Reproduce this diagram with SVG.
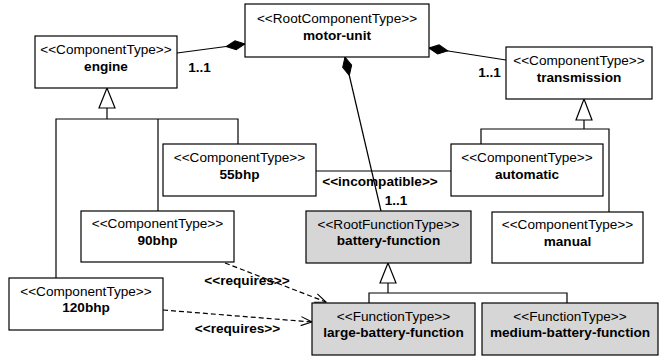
<svg xmlns="http://www.w3.org/2000/svg" width="660" height="356" viewBox="0 0 660 356">
  <style>
    .box { fill: #ffffff; stroke: #000000; stroke-width: 1.2; }
    .fn { fill: #d6d6d6; stroke: #000000; stroke-width: 1.2; }
    .st { font-family: "Liberation Sans", Arial, sans-serif; font-size: 13.6px; fill: #000; text-anchor: middle; }
    .nm { font-family: "Liberation Sans", Arial, sans-serif; font-size: 13.6px; font-weight: bold; fill: #000; text-anchor: middle; }
    .lbl { font-family: "Liberation Sans", Arial, sans-serif; font-size: 13.6px; font-weight: bold; fill: #000; text-anchor: middle; }
    .ln { fill: none; stroke: #000; stroke-width: 1.2; }
    .dash { fill: none; stroke: #000; stroke-width: 1.2; stroke-dasharray: 5 3; }
    .tri { fill: #ffffff; stroke: #000; stroke-width: 1.2; }
  </style>
  <defs>
    <marker id="diamond" markerUnits="userSpaceOnUse" markerWidth="22" markerHeight="12" viewBox="-20 -6 22 12" refX="0" refY="0" orient="auto">
      <path d="M0,0 L-9.5,-4.6 L-19,0 L-9.5,4.6 Z" fill="#000" stroke="#000" stroke-width="1"/>
    </marker>
    <marker id="open" markerUnits="userSpaceOnUse" markerWidth="14" markerHeight="12" viewBox="-12 -6 14 12" refX="0" refY="0" orient="auto">
      <path d="M-11,-4.5 L0,0 L-11,4.5" fill="none" stroke="#000" stroke-width="1.1"/>
    </marker>
  </defs>

  <!-- connectors -->
  <g id="connectors">
    <!-- compositions into motor-unit -->
    <line class="ln" x1="177" y1="53" x2="245" y2="44" marker-end="url(#diamond)"/>
    <line class="ln" x1="506" y1="60" x2="429" y2="48" marker-end="url(#diamond)"/>
    <line class="ln" x1="381" y1="211" x2="345" y2="57" marker-end="url(#diamond)"/>

    <!-- engine specialisations -->
    <polygon class="tri" points="107,88 99,108 115,108"/>
    <polyline class="ln" points="107,108 107,119"/>
    <polyline class="ln" points="56,278 56,119 238,119 238,144"/>
    <line class="ln" x1="158" y1="119" x2="158" y2="211"/>

    <!-- transmission specialisations -->
    <polygon class="tri" points="584,99 576,120 592,120"/>
    <polyline class="ln" points="584,120 584,129"/>
    <polyline class="ln" points="481,144 481,129 609,129 609,212"/>

    <!-- battery-function specialisations -->
    <polygon class="tri" points="388,263 380,283 396,283"/>
    <polyline class="ln" points="388,283 388,293"/>
    <polyline class="ln" points="369,303 369,293 567,293 567,303"/>

    <!-- incompatible -->
    <line class="ln" x1="316" y1="171" x2="451" y2="171"/>

    <!-- requires -->
    <line class="dash" x1="225" y1="263" x2="326" y2="302" marker-end="url(#open)"/>
    <line class="dash" x1="163" y1="310" x2="312" y2="322" marker-end="url(#open)"/>

    <!-- connector labels -->
    <text class="lbl" x="199.5" y="72">1..1</text>
    <text class="lbl" x="489.5" y="77">1..1</text>
    <text class="lbl" x="396" y="205">1..1</text>
    <text class="lbl" x="380" y="186">&lt;&lt;incompatible&gt;&gt;</text>
    <text class="lbl" x="247" y="285">&lt;&lt;requires&gt;&gt;</text>
    <text class="lbl" x="237.5" y="333">&lt;&lt;requires&gt;&gt;</text>
  </g>

  <g id="motor-unit">
    <rect class="box" x="245" y="4" width="184" height="53"/>
    <text class="st" x="337" y="23">&lt;&lt;RootComponentType&gt;&gt;</text>
    <text class="nm" x="337" y="40">motor-unit</text>
  </g>

  <g id="engine">
    <rect class="box" x="35" y="36" width="142" height="52"/>
    <text class="st" x="106" y="54">&lt;&lt;ComponentType&gt;&gt;</text>
    <text class="nm" x="106" y="71">engine</text>
  </g>

  <g id="transmission">
    <rect class="box" x="506" y="47" width="146" height="52"/>
    <text class="st" x="579" y="65">&lt;&lt;ComponentType&gt;&gt;</text>
    <text class="nm" x="579" y="82">transmission</text>
  </g>

  <g id="bhp55">
    <rect class="box" x="163" y="144" width="153" height="52"/>
    <text class="st" x="239.5" y="162">&lt;&lt;ComponentType&gt;&gt;</text>
    <text class="nm" x="239.5" y="178.5">55bhp</text>
  </g>

  <g id="automatic">
    <rect class="box" x="451" y="144" width="152" height="52"/>
    <text class="st" x="527" y="162">&lt;&lt;ComponentType&gt;&gt;</text>
    <text class="nm" x="527" y="178.5">automatic</text>
  </g>

  <g id="bhp90">
    <rect class="box" x="81" y="211" width="153" height="51"/>
    <text class="st" x="157.5" y="228">&lt;&lt;ComponentType&gt;&gt;</text>
    <text class="nm" x="157.5" y="244.5">90bhp</text>
  </g>

  <g id="battery-function">
    <rect class="fn" x="306" y="211" width="165" height="52"/>
    <text class="st" x="388.5" y="228.5">&lt;&lt;RootFunctionType&gt;&gt;</text>
    <text class="nm" x="388.5" y="245">battery-function</text>
  </g>

  <g id="manual">
    <rect class="box" x="492" y="212" width="151" height="51"/>
    <text class="st" x="567.5" y="229">&lt;&lt;ComponentType&gt;&gt;</text>
    <text class="nm" x="567.5" y="245.5">manual</text>
  </g>

  <g id="bhp120">
    <rect class="box" x="9" y="278" width="154" height="52"/>
    <text class="st" x="86" y="295.5">&lt;&lt;ComponentType&gt;&gt;</text>
    <text class="nm" x="86" y="312">120bhp</text>
  </g>

  <g id="large-battery-function">
    <rect class="fn" x="312" y="303" width="163" height="52"/>
    <text class="st" x="393.5" y="321">&lt;&lt;FunctionType&gt;&gt;</text>
    <text class="nm" x="393.5" y="337">large-battery-function</text>
  </g>

  <g id="medium-battery-function">
    <rect class="fn" x="482" y="303" width="176" height="52"/>
    <text class="st" x="570" y="321">&lt;&lt;FunctionType&gt;&gt;</text>
    <text class="nm" x="570" y="337">medium-battery-function</text>
  </g>
</svg>
